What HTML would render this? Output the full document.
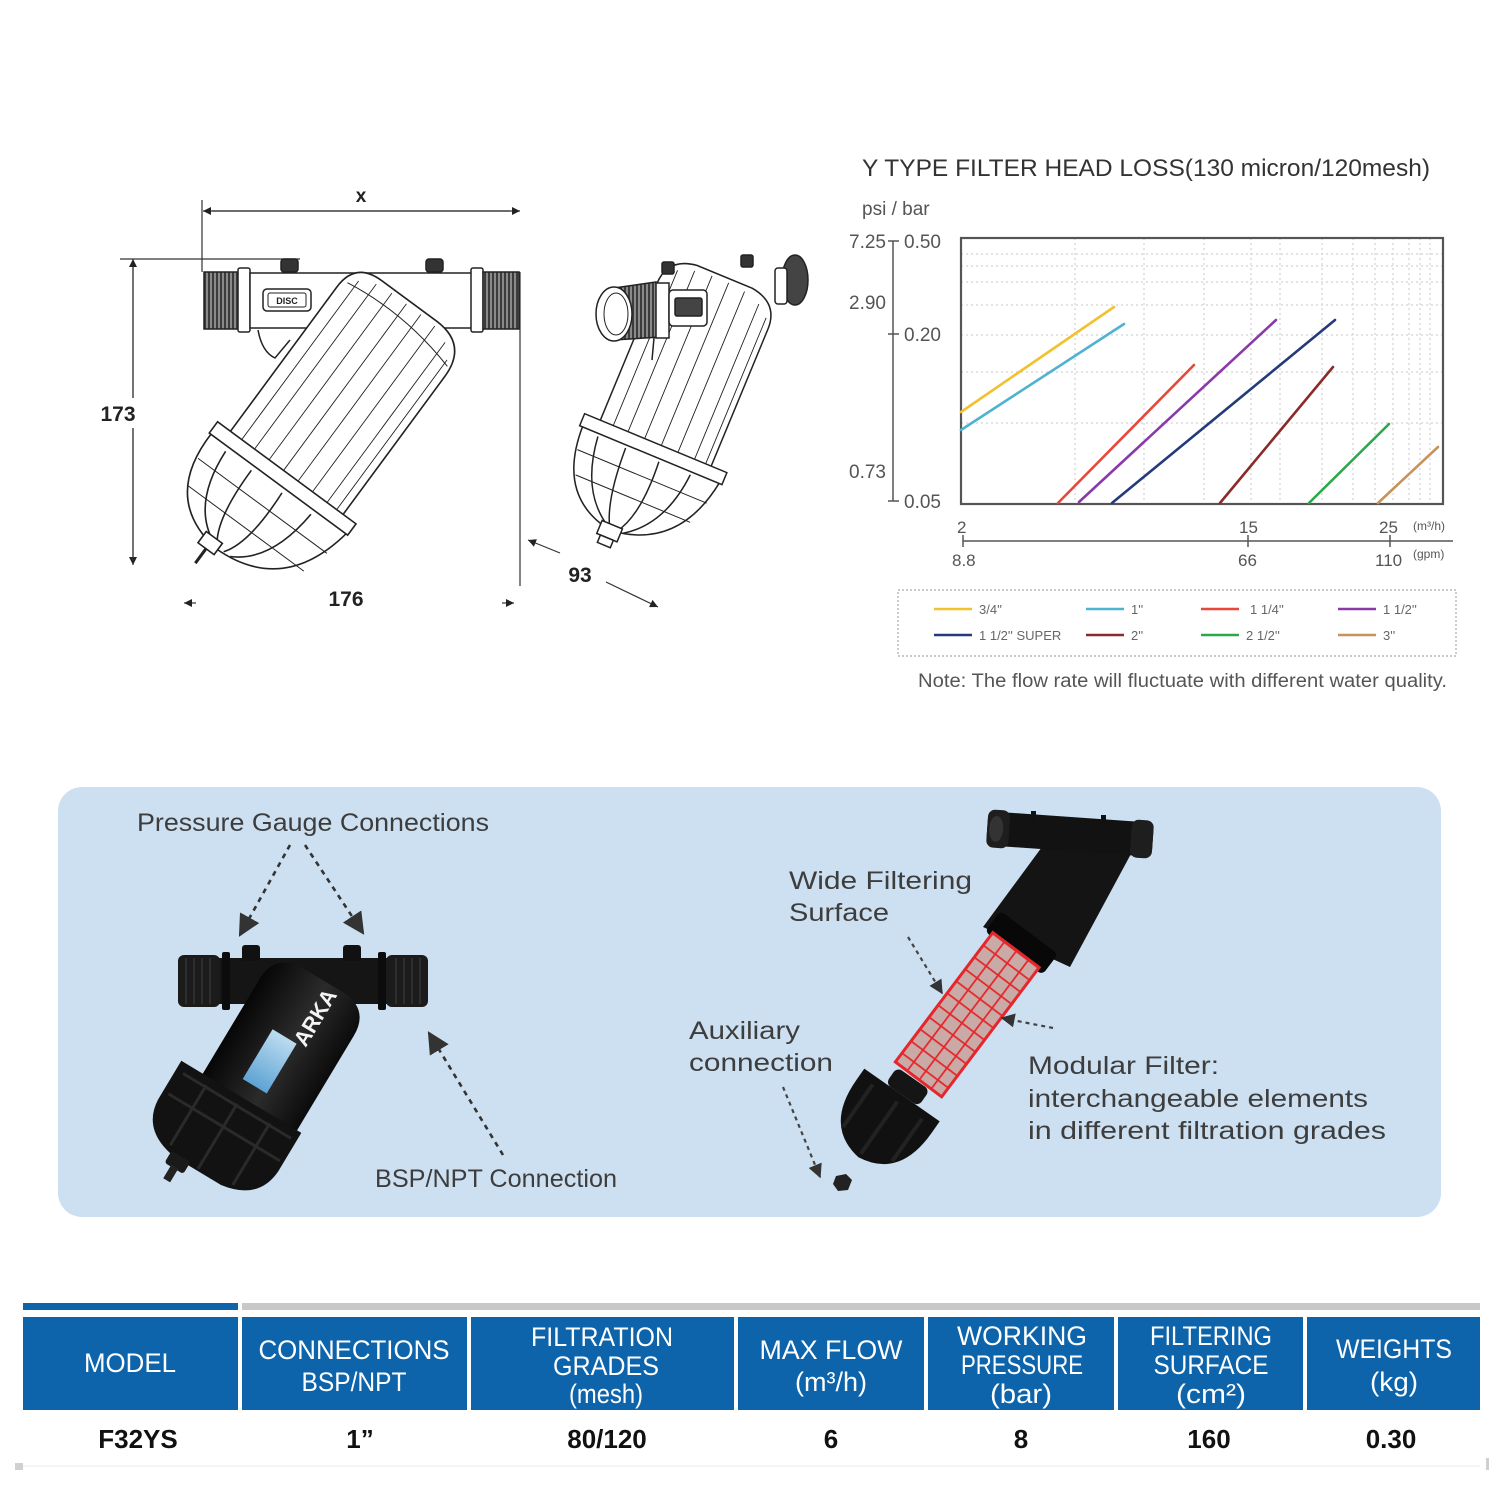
<!DOCTYPE html>
<html><head><meta charset="utf-8">
<style>html,body{margin:0;padding:0;background:#fff}svg{display:block}</style>
</head><body>
<svg width="1500" height="1500" viewBox="0 0 1500 1500" xmlns="http://www.w3.org/2000/svg" font-family="'Liberation Sans', sans-serif">
<defs>
<pattern id="thread" width="4" height="4" patternUnits="userSpaceOnUse"><rect width="4" height="4" fill="#8a8a8a"/><rect width="2" height="4" fill="#3c3c3c"/></pattern>
<pattern id="mesh" width="15" height="15" patternUnits="userSpaceOnUse"><rect width="15" height="15" fill="#c9aaa6"/><path d="M0 0H15M0 0V15" stroke="#e5262b" stroke-width="3.5"/></pattern>
<linearGradient id="blk" x1="0" x2="1" y1="0" y2="0"><stop offset="0" stop-color="#060606"/><stop offset="0.55" stop-color="#2b2b2b"/><stop offset="1" stop-color="#0b0b0b"/></linearGradient>
<linearGradient id="lbl" x1="0" x2="0" y1="0" y2="1"><stop offset="0" stop-color="#bcdcf0"/><stop offset="1" stop-color="#5ea3d4"/></linearGradient>
<marker id="ah" viewBox="0 0 10 10" refX="9" refY="5" markerWidth="22" markerHeight="22" orient="auto" markerUnits="userSpaceOnUse"><path d="M0 0L10 5L0 10Z" fill="#333"/></marker>
<marker id="ahs" viewBox="0 0 10 10" refX="9" refY="5" markerWidth="15" markerHeight="14" orient="auto" markerUnits="userSpaceOnUse"><path d="M0 0L10 5L0 10Z" fill="#333"/></marker>
<marker id="dm" viewBox="0 0 10 10" refX="10" refY="5" markerWidth="14" markerHeight="8" orient="auto" markerUnits="userSpaceOnUse"><path d="M0 0L10 5L0 10Z" fill="#222"/></marker>
</defs>

<!-- ============ LEFT LINE DRAWING ============ -->
<g stroke="#333" stroke-width="1.2" fill="none">
  <line x1="202" y1="200" x2="202" y2="272"/>
  <line x1="212" y1="211" x2="520" y2="211" marker-end="url(#dm)"/>
  <line x1="510" y1="211" x2="203" y2="211" marker-end="url(#dm)"/>
  <line x1="120" y1="259" x2="300" y2="259"/>
  <line x1="133" y1="265" x2="133" y2="565" marker-end="url(#dm)"/>
  <line x1="133" y1="560" x2="133" y2="259" marker-end="url(#dm)"/>
  <line x1="520" y1="272" x2="520" y2="586"/>
  <line x1="196" y1="603" x2="184" y2="603" marker-end="url(#dm)"/>
  <line x1="502" y1="603" x2="514" y2="603" marker-end="url(#dm)"/>
  <line x1="560" y1="553" x2="528" y2="540" marker-end="url(#dm)"/>
  <line x1="606" y1="582" x2="658" y2="607" marker-end="url(#dm)"/>
</g>
<rect x="96" y="398" width="44" height="30" fill="#fff"/>
<text x="361" y="202" font-size="19" font-weight="bold" fill="#222" text-anchor="middle">x</text>
<text x="118" y="421" font-size="21" font-weight="bold" fill="#222" text-anchor="middle">173</text>
<text x="346" y="606" font-size="21" font-weight="bold" fill="#222" text-anchor="middle">176</text>
<text x="580" y="582" font-size="21" font-weight="bold" fill="#222" text-anchor="middle">93</text>

<!-- pipe -->
<g stroke="#222" stroke-width="1.5" fill="#fff">
  <path d="M258 330 Q262 352 275 358 L290 340"/>
  <rect x="204" y="272" width="34" height="57" fill="url(#thread)"/>
  <rect x="238" y="268" width="12" height="64" rx="2"/>
  <rect x="250" y="273" width="222" height="55"/>
  <rect x="471" y="268" width="12" height="64" rx="2"/>
  <rect x="483" y="272" width="36" height="57" fill="url(#thread)"/>
  <rect x="281" y="259" width="17" height="13" rx="3" fill="#333"/>
  <rect x="426" y="259" width="17" height="13" rx="3" fill="#333"/>
  <rect x="263" y="289" width="48" height="22" rx="4"/>
  <rect x="268" y="293" width="38" height="14" rx="2" stroke-width="1"/>
</g>
<text x="287" y="304" font-size="9" font-weight="bold" fill="#222" text-anchor="middle">DISC</text>
<!-- body -->
<g transform="translate(412,303) rotate(36.4)" stroke="#222" stroke-width="1.6" fill="#fff">
  <path d="M-70 225 V32 Q-70 0 -38 0 H30 Q70 0 70 40 V225 Z"/>
  <path fill="none" stroke-width="0.9" d="M-56 14 V215 M-40 6 V215 M-22 4 V215 M-4 4 V215 M14 4 V215 M32 5 V215 M50 12 V215 M62 25 V215"/>
  <path fill="none" stroke-width="1" d="M-64 22 Q0 12 66 30"/>
  <path d="M-84 224 Q-86 306 -12 314 Q70 312 84 224 Z"/>
  <path fill="none" d="M-62 230 Q-58 292 -18 310 M-30 230 Q-30 292 -12 312 M8 230 Q12 290 -4 312 M44 230 Q40 292 4 312"/>
  <path fill="none" stroke-width="1" d="M-80 252 H80 M-72 280 H72"/>
  <rect x="-86" y="211" width="172" height="14"/>
  <rect x="-30" y="306" width="20" height="14"/>
  <path d="M-20 320 V338" stroke-width="3"/>
</g>

<!-- ============ RIGHT LINE DRAWING ============ -->
<ellipse cx="795" cy="280" rx="13" ry="25" fill="#444" stroke="#222" stroke-width="1.5"/>
<g transform="translate(655,445) rotate(22.5)" stroke="#222" stroke-width="1.5" fill="#fff">
  <path d="M-60 5 V-150 Q-60 -178 -30 -182 H30 Q60 -178 60 -150 V5 Z"/>
  <path fill="none" stroke-width="0.9" d="M-46 -170 V0 M-30 -176 V0 M-12 -178 V0 M6 -178 V0 M24 -176 V0 M42 -170 V0 M54 -160 V0"/>
  <path d="M-74 10 Q-72 86 -8 96 Q62 88 74 10 Z"/>
  <path fill="none" d="M-56 14 Q-50 70 -14 92 M-26 14 Q-24 70 -10 94 M10 14 Q14 70 -2 94 M44 14 Q40 70 4 94"/>
  <path fill="none" stroke-width="1" d="M-70 34 H70 M-62 58 H62"/>
  <rect x="-77" y="-2" width="154" height="13"/>
  <rect x="-20" y="90" width="22" height="14"/>
  <rect x="-16" y="104" width="14" height="8"/>
</g>
<g stroke="#222" stroke-width="1.5" fill="#fff">
  <path d="M654 338 L652 360" fill="none"/>
  <path d="M614 288 L656 282 L660 337 L614 340 Z" fill="url(#thread)"/>
  <rect x="656" y="283" width="13" height="55"/>
  <rect x="669" y="290" width="38" height="36" rx="4"/>
  <rect x="675" y="298" width="27" height="18" rx="2" fill="#444"/>
  <ellipse cx="614" cy="314" rx="18" ry="27"/>
  <ellipse cx="616" cy="314" rx="12" ry="21" stroke-width="1"/>
  <rect x="662" y="262" width="12" height="12" rx="2" fill="#333"/>
  <rect x="741" y="255" width="12" height="12" rx="2" fill="#333"/>
  <rect x="775" y="268" width="12" height="36" rx="3"/>
</g>

<!-- ============ CHART ============ -->
<text x="862" y="176" font-size="24" fill="#333" textLength="568" lengthAdjust="spacingAndGlyphs">Y TYPE FILTER HEAD LOSS(130 micron/120mesh)</text>
<text x="862" y="215" font-size="19" fill="#555">psi / bar</text>
<g font-size="19" fill="#555">
  <text x="849" y="248">7.25</text><text x="904" y="248">0.50</text>
  <text x="849" y="309">2.90</text><text x="904" y="341">0.20</text>
  <text x="849" y="478">0.73</text><text x="904" y="508">0.05</text>
</g>
<g stroke="#555" stroke-width="1.5">
  <line x1="893" y1="241" x2="893" y2="501"/>
  <line x1="888" y1="241" x2="899" y2="241"/>
  <line x1="888" y1="334" x2="899" y2="334"/>
  <line x1="888" y1="501" x2="899" y2="501"/>
</g>
<g stroke="#d2d2d2" stroke-width="1.2" stroke-dasharray="2 3">
  <line x1="961" y1="254" x2="1443" y2="254"/><line x1="961" y1="266" x2="1443" y2="266"/>
  <line x1="961" y1="282" x2="1443" y2="282"/><line x1="961" y1="305" x2="1443" y2="305"/>
  <line x1="961" y1="335" x2="1443" y2="335"/><line x1="961" y1="372" x2="1443" y2="372"/>
  <line x1="961" y1="423" x2="1443" y2="423"/>
  <line x1="1075" y1="238" x2="1075" y2="504"/><line x1="1144" y1="238" x2="1144" y2="504"/>
  <line x1="1204" y1="238" x2="1204" y2="504"/><line x1="1251" y1="238" x2="1251" y2="504"/>
  <line x1="1280" y1="238" x2="1280" y2="504"/><line x1="1322" y1="238" x2="1322" y2="504"/>
  <line x1="1353" y1="238" x2="1353" y2="504"/><line x1="1375" y1="238" x2="1375" y2="504"/>
  <line x1="1393" y1="238" x2="1393" y2="504"/><line x1="1409" y1="238" x2="1409" y2="504"/>
  <line x1="1420" y1="238" x2="1420" y2="504"/><line x1="1430" y1="238" x2="1430" y2="504"/>
</g>
<rect x="961" y="238" width="482" height="266" fill="none" stroke="#555" stroke-width="2.2"/>
<g stroke-width="2.6" fill="none" stroke-linecap="round">
  <line x1="961" y1="412" x2="1114" y2="307" stroke="#f2c12e"/>
  <line x1="961" y1="430" x2="1124" y2="324" stroke="#4fb3cf"/>
  <line x1="1058" y1="503" x2="1194" y2="365" stroke="#e8473a"/>
  <line x1="1079" y1="502" x2="1276" y2="320" stroke="#8a3aa8"/>
  <line x1="1112" y1="503" x2="1335" y2="320" stroke="#243a7a"/>
  <line x1="1220" y1="503" x2="1333" y2="367" stroke="#8b2a2a"/>
  <line x1="1309" y1="503" x2="1389" y2="424" stroke="#2aa84a"/>
  <line x1="1378" y1="503" x2="1438" y2="447" stroke="#c8935a"/>
</g>
<g stroke="#555" stroke-width="1.5">
  <line x1="963" y1="541" x2="1453" y2="541"/>
  <line x1="963" y1="535" x2="963" y2="547"/>
  <line x1="1248" y1="535" x2="1248" y2="547"/>
  <line x1="1390" y1="535" x2="1390" y2="547"/>
</g>
<g font-size="17" fill="#555">
  <text x="957" y="533">2</text><text x="1239" y="533">15</text><text x="1379" y="533">25</text>
  <text x="952" y="566">8.8</text><text x="1238" y="566">66</text><text x="1375" y="566">110</text>
</g>
<g font-size="12" fill="#555">
  <text x="1413" y="530">(m³/h)</text><text x="1413" y="558">(gpm)</text>
</g>
<rect x="898" y="590" width="558" height="66" fill="none" stroke="#aaa" stroke-width="1.2" stroke-dasharray="2 2"/>
<g stroke-width="2.6">
  <line x1="934" y1="609" x2="972" y2="609" stroke="#f2c12e"/>
  <line x1="1086" y1="609" x2="1124" y2="609" stroke="#4fb3cf"/>
  <line x1="1201" y1="609" x2="1239" y2="609" stroke="#e8473a"/>
  <line x1="1338" y1="609" x2="1376" y2="609" stroke="#8a3aa8"/>
  <line x1="934" y1="635" x2="972" y2="635" stroke="#243a7a"/>
  <line x1="1086" y1="635" x2="1124" y2="635" stroke="#8b2a2a"/>
  <line x1="1201" y1="635" x2="1239" y2="635" stroke="#2aa84a"/>
  <line x1="1338" y1="635" x2="1376" y2="635" stroke="#c8935a"/>
</g>
<g font-size="13" fill="#666">
  <text x="979" y="614">3/4''</text><text x="1131" y="614">1''</text><text x="1250" y="614">1 1/4''</text><text x="1383" y="614">1 1/2''</text>
  <text x="979" y="640">1 1/2'' SUPER</text><text x="1131" y="640">2''</text><text x="1246" y="640">2 1/2''</text><text x="1383" y="640">3''</text>
</g>
<text x="918" y="687" font-size="19" fill="#555" textLength="529" lengthAdjust="spacingAndGlyphs">Note: The flow rate will fluctuate with different water quality.</text>

<!-- ============ BLUE PANEL ============ -->
<rect x="58" y="787" width="1383" height="430" rx="24" fill="#cde0f1"/>

<!-- left black filter -->
<g>
  <rect x="178" y="958" width="250" height="46" rx="7" fill="#151515"/>
  <rect x="178" y="955" width="42" height="52" rx="6" fill="#1b1b1b"/>
  <rect x="386" y="955" width="42" height="52" rx="6" fill="#1b1b1b"/>
  <path d="M186 958V1004M194 958V1004M202 958V1004M210 958V1004M396 958V1004M404 958V1004M412 958V1004M420 958V1004" stroke="#2e2e2e" stroke-width="2"/>
  <rect x="222" y="952" width="8" height="58" rx="2" fill="#0c0c0c"/>
  <rect x="378" y="952" width="8" height="58" rx="2" fill="#0c0c0c"/>
  <rect x="242" y="945" width="18" height="16" rx="3" fill="#111"/>
  <rect x="343" y="945" width="18" height="16" rx="3" fill="#111"/>
  <g transform="translate(322,982) rotate(31)">
    <path d="M-55 165 V30 Q-55 0 -25 -2 H25 Q55 0 55 30 V165 Z" fill="url(#blk)"/>
    <path d="M-80 140 H60 V185 Q58 220 18 226 H-36 Q-78 220 -80 185 Z" fill="#121212"/>
    <path d="M-72 150 H54 M-74 175 H56 M-46 148 V218 M-10 148 V224 M28 148 V220" stroke="#2a2a2a" stroke-width="3" fill="none"/>
    <rect x="-42" y="222" width="22" height="14" rx="3" fill="#1a1a1a"/>
    <rect x="-35" y="234" width="8" height="16" fill="#222"/>
    <rect x="-18" y="66" width="28" height="58" fill="url(#lbl)"/>
    <text transform="translate(20,34) rotate(-90)" font-size="22" font-weight="bold" fill="#f4f4f4" text-anchor="middle" textLength="62" lengthAdjust="spacingAndGlyphs">ARKA</text>
  </g>
</g>

<!-- right filter exploded -->
<g>
  <polygon points="1053,832 1132,852 1070,967 983,927" fill="#141414"/>
  <g transform="translate(1070,834) rotate(4)">
    <rect x="-83" y="-17" width="166" height="34" rx="8" fill="#121212"/>
    <rect x="-83" y="-19" width="22" height="38" rx="7" fill="#1e1e1e"/>
    <rect x="61" y="-19" width="22" height="38" rx="7" fill="#1e1e1e"/>
    <ellipse cx="-74" cy="0" rx="7" ry="13" fill="#333"/>
  </g>
  <rect x="1031" y="811" width="5" height="12" fill="#111"/>
  <rect x="1101" y="815" width="5" height="12" fill="#111"/>
  <g transform="translate(1016,950) rotate(37)">
    <rect x="-36" y="-22" width="72" height="26" rx="5" fill="#080808"/>
    <rect x="-29" y="0" width="58" height="162" fill="url(#mesh)" stroke="#e5262b" stroke-width="3"/>
  </g>
  <g transform="translate(902,1095) rotate(35)">
    <rect x="-20" y="-20" width="40" height="20" rx="6" fill="#151515"/>
    <path d="M-46 0 H46 V14 Q46 70 0 76 Q-46 70 -46 14 Z" fill="#111"/>
    <path d="M-30 8 V60 M0 8 V72 M30 8 V60" stroke="#222" stroke-width="4"/>
  </g>
  <path d="M836 1176 L846 1174 L852 1180 L848 1190 L838 1191 L833 1184 Z" fill="#222"/>
</g>

<!-- dashed arrows -->
<g stroke="#333" stroke-width="2.6" stroke-dasharray="5 5" fill="none">
  <line x1="290" y1="845" x2="240" y2="935" marker-end="url(#ah)"/>
  <line x1="305" y1="845" x2="363" y2="933" marker-end="url(#ah)"/>
  <line x1="503" y1="1155" x2="429" y2="1033" marker-end="url(#ah)"/>
</g>
<g stroke="#444" stroke-width="2.2" stroke-dasharray="4 4" fill="none">
  <line x1="908" y1="937" x2="942" y2="993" marker-end="url(#ahs)"/>
  <line x1="1053" y1="1028" x2="1002" y2="1018" marker-end="url(#ahs)"/>
  <line x1="783" y1="1087" x2="820" y2="1177" marker-end="url(#ahs)"/>
</g>

<g font-size="25" fill="#3d3d3d">
  <text x="137" y="831" textLength="352" lengthAdjust="spacingAndGlyphs">Pressure Gauge  Connections</text>
  <text x="789" y="889" textLength="183" lengthAdjust="spacingAndGlyphs">Wide Filtering</text>
  <text x="789" y="921" textLength="100" lengthAdjust="spacingAndGlyphs">Surface</text>
  <text x="689" y="1039" textLength="111" lengthAdjust="spacingAndGlyphs">Auxiliary</text>
  <text x="689" y="1071" textLength="144" lengthAdjust="spacingAndGlyphs">connection</text>
  <text x="1028" y="1074" textLength="191" lengthAdjust="spacingAndGlyphs">Modular Filter:</text>
  <text x="1028" y="1107" textLength="340" lengthAdjust="spacingAndGlyphs">interchangeable elements</text>
  <text x="1028" y="1139" textLength="358" lengthAdjust="spacingAndGlyphs">in different filtration grades</text>
  <text x="375" y="1187" textLength="242" lengthAdjust="spacingAndGlyphs">BSP/NPT Connection</text>
</g>

<!-- ============ TABLE ============ -->
<rect x="23" y="1303" width="215" height="7" fill="#0d64ab"/>
<rect x="242" y="1303" width="1238" height="7" fill="#c8c8c8"/>
<g fill="#0d64ab">
  <rect x="23" y="1317" width="215" height="93"/>
  <rect x="242" y="1317" width="225" height="93"/>
  <rect x="471" y="1317" width="263" height="93"/>
  <rect x="738" y="1317" width="186" height="93"/>
  <rect x="928" y="1317" width="186" height="93"/>
  <rect x="1118" y="1317" width="185" height="93"/>
  <rect x="1307" y="1317" width="173" height="93"/>
</g>
<g font-size="27" fill="#fff" text-anchor="middle">
  <text x="130" y="1372" textLength="92" lengthAdjust="spacingAndGlyphs">MODEL</text>
  <text x="354" y="1359" textLength="191" lengthAdjust="spacingAndGlyphs">CONNECTIONS</text>
  <text x="354" y="1391" textLength="105" lengthAdjust="spacingAndGlyphs">BSP/NPT</text>
  <text x="602" y="1346" textLength="142" lengthAdjust="spacingAndGlyphs">FILTRATION</text>
  <text x="606" y="1375" textLength="106" lengthAdjust="spacingAndGlyphs">GRADES</text>
  <text x="606" y="1403" textLength="74" lengthAdjust="spacingAndGlyphs">(mesh)</text>
  <text x="831" y="1359" textLength="143" lengthAdjust="spacingAndGlyphs">MAX FLOW</text>
  <text x="831" y="1391" textLength="72" lengthAdjust="spacingAndGlyphs">(m³/h)</text>
  <text x="1022" y="1345" textLength="130" lengthAdjust="spacingAndGlyphs">WORKING</text>
  <text x="1022" y="1374" textLength="122" lengthAdjust="spacingAndGlyphs">PRESSURE</text>
  <text x="1021" y="1403" textLength="62" lengthAdjust="spacingAndGlyphs">(bar)</text>
  <text x="1211" y="1345" textLength="122" lengthAdjust="spacingAndGlyphs">FILTERING</text>
  <text x="1211" y="1374" textLength="115" lengthAdjust="spacingAndGlyphs">SURFACE</text>
  <text x="1211" y="1403" textLength="70" lengthAdjust="spacingAndGlyphs">(cm²)</text>
  <text x="1394" y="1358" textLength="116" lengthAdjust="spacingAndGlyphs">WEIGHTS</text>
  <text x="1394" y="1391" textLength="48" lengthAdjust="spacingAndGlyphs">(kg)</text>
</g>
<g font-size="26" font-weight="bold" fill="#111" text-anchor="middle">
  <text x="138" y="1448">F32YS</text>
  <text x="360" y="1448">1”</text>
  <text x="607" y="1448">80/120</text>
  <text x="831" y="1448">6</text>
  <text x="1021" y="1448">8</text>
  <text x="1209" y="1448">160</text>
  <text x="1391" y="1448">0.30</text>
</g>
<line x1="23" y1="1466" x2="1480" y2="1466" stroke="#f0f0f0" stroke-width="1.5"/>
<rect x="15" y="1463" width="8" height="7" fill="#d0d0d0"/>
<rect x="1486" y="1458" width="3" height="12" fill="#d0d0d0"/>
</svg>
</body></html>
